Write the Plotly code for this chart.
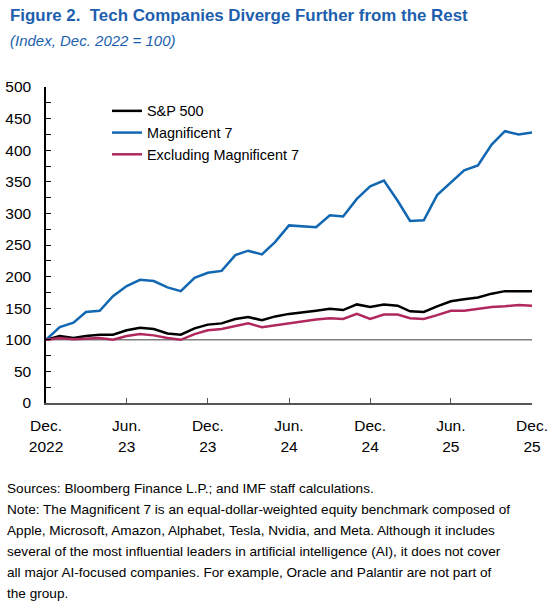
import pandas as pd
import plotly.graph_objects as go

# monthly index values, Dec. 2022 = 100
months = pd.date_range("2022-12-01", "2025-12-01", freq="MS")

sp500 = [100, 106, 103, 106, 108, 108, 115, 119, 117, 110, 108, 118, 124,
         126, 133, 136, 131, 137, 141, 143, 146, 149, 147, 156, 152,
         156, 154, 145, 144, 153, 161, 164, 167, 173, 177, 177, 177]

mag7 = [100, 120, 127, 144, 146, 169, 185, 195, 193, 183, 177, 198, 206,
        209, 234, 241, 235, 255, 281, 280, 278, 297, 295, 323, 343,
        352, 320, 288, 289, 329, 349, 368, 376, 409, 430, 425, 428]

ex_mag7 = [100, 103, 101, 102, 103, 100, 106, 109, 107, 103, 100, 109, 115,
           117, 122, 126, 120, 123, 125, 128, 132, 134, 133, 141, 133,
           140, 140, 134, 133, 139, 146, 146, 149, 152, 153, 155, 154]

series_names = ["S&P 500", "Magnificent 7", "Excluding Magnificent 7"]
series_colors = ["#000000", "#1167B1", "#B0285C"]

tick_dates = ["2022-12-01", "2023-06-01", "2023-12-01", "2024-06-01",
              "2024-12-01", "2025-06-01", "2025-12-01"]
tick_text = ["Dec.<br>2022", "Jun.<br>23", "Dec.<br>23", "Jun.<br>24",
             "Dec.<br>24", "Jun.<br>25", "Dec.<br>25"]

BASE = 100

title = "Figure 2.  Tech Companies Diverge Further from the Rest"
subtitle = "(Index, Dec. 2022 = 100)"
note_lines = [
    "Sources: Bloomberg Finance L.P.; and IMF staff calculations.",
    "Note: The Magnificent 7 is an equal-dollar-weighted equity benchmark composed of",
    "Apple, Microsoft, Amazon, Alphabet, Tesla, Nvidia, and Meta. Although it includes",
    "several of the most influential leaders in artificial intelligence (AI), it does not cover",
    "all major AI-focused companies. For example, Oracle and Palantir are not part of",
    "the group.",
]

FONT = "Liberation Sans, Arial, sans-serif"
BLUE_TITLE = "#1D5FAE"

fig = go.Figure()
for name, vals, col in zip(series_names, [sp500, mag7, ex_mag7], series_colors):
    fig.add_trace(go.Scatter(x=months, y=vals, name=name, mode="lines",
                             line=dict(color=col, width=2.5)))

fig.add_hline(y=BASE, line=dict(color="#7f7f7f", width=1.5), layer="below")

# page is drawn with the body margin removed (see post_script below)
W, H = 557, 610
# plot area in page pixels
P_LEFT, P_RIGHT, P_TOP, P_BOTTOM = 46, 532, 87, 403
L, R = P_LEFT, W - P_RIGHT
T, B = P_TOP, H - P_BOTTOM
pw, ph = P_RIGHT - P_LEFT, P_BOTTOM - P_TOP


def px(x):
    return (x - P_LEFT) / pw


def py(y):
    return (P_BOTTOM - y) / ph


fig.add_annotation(text="<b>" + title + "</b>", x=px(8), y=py(16), xref="paper", yref="paper",
                   xanchor="left", yanchor="middle", showarrow=False,
                   font=dict(family=FONT, size=16.9, color=BLUE_TITLE))
fig.add_annotation(text="<i>" + subtitle + "</i>", x=px(8), y=py(41), xref="paper", yref="paper",
                   xanchor="left", yanchor="middle", showarrow=False,
                   font=dict(family=FONT, size=15, color=BLUE_TITLE))
for k, line in enumerate(note_lines):
    fig.add_annotation(text=line, x=px(5), y=py(488 + 21 * k), xref="paper", yref="paper",
                       xanchor="left", yanchor="middle", showarrow=False,
                       font=dict(family=FONT, size=13.6, color="#000000"))

fig.update_layout(
    width=W, height=H,
    margin=dict(l=L, r=R, t=T, b=B, pad=0),
    paper_bgcolor="white", plot_bgcolor="white",
    font=dict(family=FONT, size=15, color="#000000"),
    showlegend=True,
    legend=dict(x=px(107), y=py(95), xanchor="left", yanchor="top",
                bgcolor="rgba(0,0,0,0)", font=dict(size=14.4), tracegroupgap=0),
    xaxis=dict(range=[months[0], months[-1]], tickvals=tick_dates, ticktext=tick_text,
               ticks="inside", ticklen=5, tickcolor="#555555", showgrid=False,
               showline=True, linecolor="#555555", linewidth=1.5, zeroline=False,
               automargin=False, ticklabelstandoff=8, tickfont=dict(size=15.5)),
    yaxis=dict(range=[0, 500], dtick=50, ticks="inside", ticklen=5, tickcolor="#000000",
               showgrid=False, showline=True, linecolor="#000000", linewidth=1.5,
               zeroline=False, automargin=False, ticklabelstandoff=10,
               tickfont=dict(size=15.5),
               minor=dict(dtick=25, ticks="inside", ticklen=5, tickcolor="#000000")),
)

fig.write_html("out.html", config={"displayModeBar": False},
               post_script="document.body.style.margin = '0';")
